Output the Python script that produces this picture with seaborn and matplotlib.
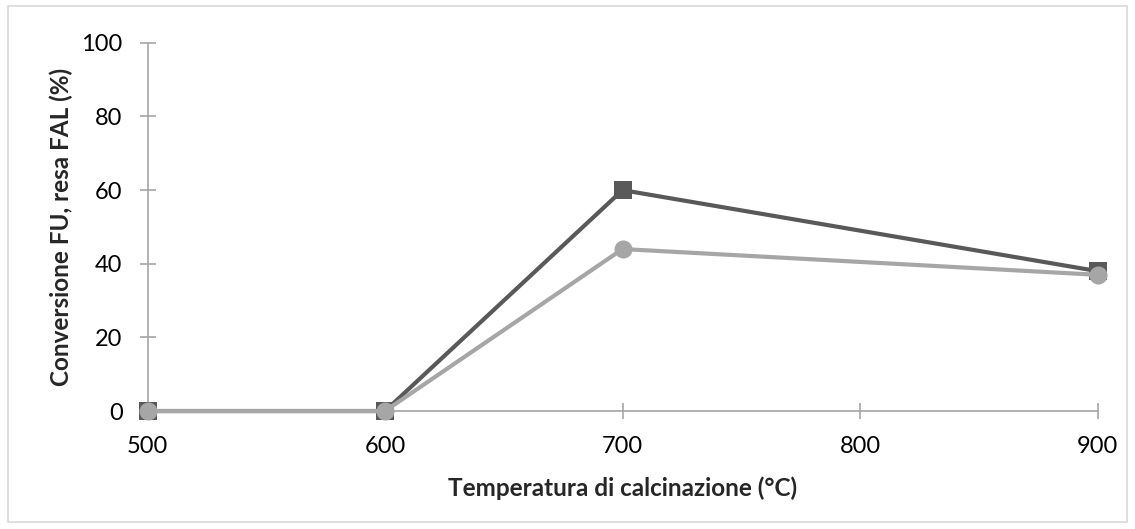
import matplotlib
matplotlib.use("Agg")
import matplotlib.pyplot as plt
import seaborn as sns
import pandas as pd
from matplotlib.patches import Rectangle

temperature = [500, 600, 700, 900]
conversione_fu = [0, 0, 60, 38]
resa_fal = [0, 0, 44, 37]
x_ticks = [500, 600, 700, 800, 900]
y_ticks = [0, 20, 40, 60, 80, 100]

sns.set_theme(style="white")
plt.rcParams['font.family'] = ['Lato', 'DejaVu Sans']

fig = plt.figure(figsize=(11.35, 5.29), dpi=100)
fig.patches.append(Rectangle((0.007, 0.013), 0.986, 0.975, transform=fig.transFigure,
                             fill=False, edgecolor="#D9D9D9", linewidth=1.2))
ax = fig.add_axes([0.130, 0.223, 0.837, 0.696])

df = pd.DataFrame({"T": temperature, "FU": conversione_fu, "FAL": resa_fal})
sns.lineplot(data=df, x="T", y="FU", ax=ax, color="#595959", linewidth=3,
             marker="s", markersize=13, markeredgewidth=0, zorder=3)
sns.lineplot(data=df, x="T", y="FAL", ax=ax, color="#A6A6A6", linewidth=3,
             marker="o", markersize=13, markeredgewidth=0, zorder=4)

ax.set_xlim(500, 900)
ax.set_ylim(0, 100)
ax.set_xticks(x_ticks)
ax.set_yticks(y_ticks)
for s in ["top", "right"]:
    ax.spines[s].set_visible(False)
for s in ["left", "bottom"]:
    ax.spines[s].set_color("#A6A6A6")
    ax.spines[s].set_linewidth(1.2)
ax.tick_params(axis="both", which="major", bottom=True, left=True, direction="inout",
               length=12, width=1.2, color="#A6A6A6", labelsize=17, labelcolor="black")
ax.tick_params(axis="x", pad=12)
ax.tick_params(axis="y", pad=12)
ax.set_xlabel("Temperatura di calcinazione (°C)", fontsize=17.5, fontweight="bold", labelpad=14)
ax.set_ylabel("Conversione FU, resa FAL (%)", fontsize=17.5, fontweight="bold", labelpad=6)
for sp in ax.spines.values():
    sp.set_clip_on(False)
for line in ax.lines:
    line.set_clip_on(False)

fig.savefig("out.png", dpi=100)
